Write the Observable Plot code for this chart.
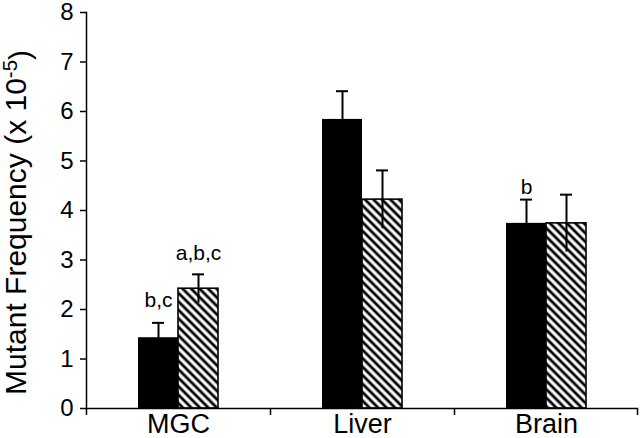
<!DOCTYPE html>
<html>
<head>
<meta charset="utf-8">
<script src="https://cdn.jsdelivr.net/npm/d3@7"></script>
<script src="https://cdn.jsdelivr.net/npm/@observablehq/plot@0.6"></script>
<style>
  html, body { margin: 0; padding: 0; background: #fff; }
  svg { display: block; }
</style>
</head>
<body>
<div id="chart"></div>
<script>
// ---- data ----
const categories = ["MGC", "Liver", "Brain"];
const seriesNames = ["solid", "hatched"];
const meanSolid = [1.43, 5.84, 3.74];
const errSolid = [0.30, 0.57, 0.48];
const meanHatched = [2.42, 4.22, 3.74];
const errHatched = [0.29, 0.59, 0.58];
const yTicks = [0, 1, 2, 3, 4, 5, 6, 7, 8];
const annotCategory = ["MGC", "MGC", "Brain"];
const annotSeries = ["solid", "hatched", "solid"];
const annotText = ["b,c", "a,b,c", "b"];
const annotY = [2.06, 3.01, 4.34];
const yLabel = "Mutant Frequency (x 10";
const yLabelSup = "-5";

// ---- build table ----
const rows = [];
categories.forEach((c, i) => {
  rows.push({cat: c, series: "solid", v: meanSolid[i], e: errSolid[i]});
  rows.push({cat: c, series: "hatched", v: meanHatched[i], e: errHatched[i]});
});
const annots = annotText.map((t, i) => ({cat: annotCategory[i], series: annotSeries[i], text: t, y: annotY[i]}));

const W = 640, H = 438, ML = 86, MR = 2, MT = 12, MB = 30;
const band = (W - ML - MR) / categories.length;
const barW = 40;
const off = barW / 2;
const outer = band / 2 - barW;
const FONT = "'Liberation Sans', Arial, Helvetica, sans-serif";

const solid = rows.filter(d => d.series === "solid");
const hatched = rows.filter(d => d.series === "hatched");

const chart = Plot.plot({
  width: W, height: H,
  marginLeft: ML, marginRight: MR, marginTop: MT, marginBottom: MB,
  style: {fontFamily: FONT, color: "black", background: "white"},
  x: {domain: categories, padding: 0, axis: null},
  y: {domain: [0, 8], axis: null},
  marks: [
    Plot.barY(solid, {x: "cat", y: "v", fill: "black", insetLeft: outer, insetRight: band / 2}),
    Plot.barY(hatched, {x: "cat", y: "v", fill: "url(#hatch)", stroke: "black", strokeWidth: 1.6, insetLeft: band / 2, insetRight: outer}),
    Plot.ruleX(solid, {x: "cat", y1: d => d.v - d.e, y2: d => d.v + d.e, dx: -off, stroke: "black", strokeWidth: 2}),
    Plot.ruleX(hatched, {x: "cat", y1: d => d.v - d.e, y2: d => d.v + d.e, dx: off, stroke: "black", strokeWidth: 2}),
    Plot.tickY(solid, {x: "cat", y: d => d.v + d.e, dx: -off, insetLeft: band / 2 - 6, insetRight: band / 2 - 6, stroke: "black", strokeWidth: 2}),
    Plot.tickY(hatched, {x: "cat", y: d => d.v + d.e, dx: off, insetLeft: band / 2 - 6, insetRight: band / 2 - 6, stroke: "black", strokeWidth: 2}),
    Plot.text(annots.filter(d => d.series === "solid"), {x: "cat", y: "y", text: "text", dx: -off, lineAnchor: "bottom", fontSize: 21, fill: "black"}),
    Plot.text(annots.filter(d => d.series === "hatched"), {x: "cat", y: "y", text: "text", dx: off, lineAnchor: "bottom", fontSize: 21, fill: "black"}),
    // axes
    Plot.frame({anchor: "left", stroke: "black", strokeWidth: 1.5}),
    Plot.ruleY([0], {stroke: "black", strokeWidth: 1.5}),
    Plot.axisY({ticks: yTicks, tickSize: 6, tickPadding: 7, fontSize: 24, tickFormat: d => String(d), label: null, stroke: "black", strokeWidth: 1.5}),
    Plot.axisX({tickSize: 0, tickPadding: 5, fontSize: 27, label: null}),
    Plot.ruleX(categories, {x: d => d, dx: -band / 2, y1: 0, y2: 0, insetBottom: -7, stroke: "black", strokeWidth: 1.5}),
    Plot.ruleX(categories.slice(-1), {x: d => d, dx: band / 2 - 1, y1: 0, y2: 0, insetBottom: -7, stroke: "black", strokeWidth: 1.5}),
    Plot.text([yLabel], {frameAnchor: "left", rotate: -90, textAnchor: "middle", dx: -70, dy: 12, fontSize: 30, fill: "black", text: d => d})
  ]
});

document.getElementById("chart").appendChild(chart);
const svg = d3.select(chart);

// hatch pattern definition
svg.insert("defs", ":first-child").html(
  `<pattern id="hatch" patternUnits="userSpaceOnUse" width="6" height="6" patternTransform="rotate(-45)">
     <rect width="6" height="6" fill="white"></rect>
     <line x1="3" y1="-1" x2="3" y2="7" stroke="black" stroke-width="2.8"></line>
   </pattern>`
);

// superscript on the y-axis title
svg.selectAll("text").filter(function() { return this.textContent === yLabel; })
  .each(function() {
    const t = d3.select(this);
    t.text(null);
    t.append("tspan").text(yLabel);
    t.append("tspan").attr("dy", "-0.45em").attr("font-size", "0.68em").text(yLabelSup);
    t.append("tspan").attr("dy", "0.45em").text(")");
  });
</script>
</body>
</html>
